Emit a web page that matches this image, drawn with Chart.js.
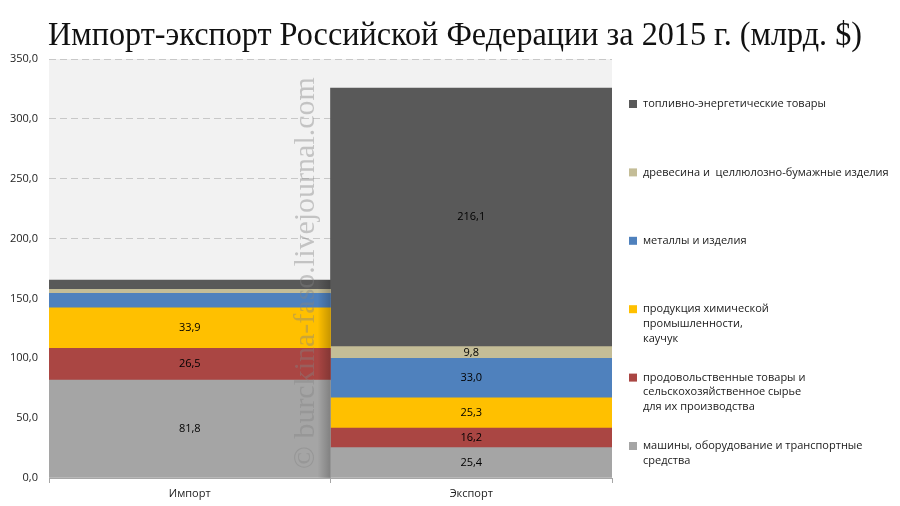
<!DOCTYPE html>
<html>
<head>
<meta charset="utf-8">
<script src="https://cdn.jsdelivr.net/npm/chart.js@4"></script>
<style>
  html, body { margin: 0; padding: 0; background: #fff; }
  #wrap { width: 900px; height: 506px; position: relative; }
</style>
</head>
<body>
<div id="wrap"><canvas id="chart" width="900" height="506"></canvas></div>
<script>
const categories = ['Импорт', 'Экспорт'];

// stack order, bottom to top
const seriesNames = [
    'машины, оборудование и транспортные\nсредства',
    'продовольственные товары и\nсельскохозяйственное сырье\nдля их производства',
    'продукция химической\nпромышленности,\nкаучук',
    'металлы и изделия',
    'древесина и  целлюлозно-бумажные изделия',
    'топливно-энергетические товары'
];
const machinery = [81.8, 25.4];
const food = [26.5, 16.2];
const chemicals = [33.9, 25.3];
const metals = [12.1, 33.0];
const timber = [3.3, 9.8];
const fuel = [7.8, 216.1];

const yTicks = [0, 50, 100, 150, 200, 250, 300, 350];

const seriesColors = ['#a5a5a5', '#aa4643', '#ffc000', '#4f81bd', '#c4bd97', '#595959'];
const seriesValues = [machinery, food, chemicals, metals, timber, fuel];

const fmt = v => v.toFixed(1).replace('.', ',');

const datasets = seriesValues.map((vals, i) => ({
    label: seriesNames[i],
    data: vals,
    backgroundColor: seriesColors[i],
    borderWidth: 0,
    barPercentage: 1.0,
    categoryPercentage: 1.0
}));

const plotBg = {
    id: 'plotBg',
    beforeDraw(chart) {
        const { ctx, chartArea: a } = chart;
        ctx.save();
        ctx.fillStyle = '#f2f2f2';
        ctx.fillRect(a.left, a.top, a.right - a.left, a.bottom - a.top);
        ctx.restore();
    }
};

const extras = {
    id: 'extras',
    afterDatasetsDraw(chart) {
        const { ctx } = chart;
        ctx.save();

        // soft shadow on the right edge of the import column
        const bar = chart.getDatasetMeta(datasets.length - 1).data[0];
        const right = bar.x + bar.width / 2;
        const g = ctx.createLinearGradient(right - 13, 0, right, 0);
        g.addColorStop(0, 'rgba(0,0,0,0)');
        g.addColorStop(1, 'rgba(0,0,0,0.22)');
        ctx.fillStyle = g;
        ctx.fillRect(right - 13, bar.y, 13, chart.chartArea.bottom - bar.y);

        // value labels
        ctx.font = '11px "Open Sans", "Liberation Sans", sans-serif';
        ctx.fillStyle = '#000';
        ctx.textAlign = 'center';
        ctx.textBaseline = 'middle';
        chart.data.datasets.forEach((ds, di) => {
            chart.getDatasetMeta(di).data.forEach((b, i) => {
                if (i === 0 && di > 2) return;
                ctx.fillText(fmt(ds.data[i]), b.x, (b.y + b.base) / 2);
            });
        });

        // watermark
        ctx.translate(306, 273);
        ctx.rotate(-Math.PI / 2);
        ctx.font = '30px "Liberation Serif", "DejaVu Serif", serif';
        ctx.fillStyle = 'rgba(130,130,130,0.42)';
        ctx.textAlign = 'center';
        ctx.fillText('© burckina-faso.livejournal.com', 0, 0);
        ctx.restore();
    },
    afterDraw(chart) {
        const { ctx } = chart;
        ctx.save();
        // title, slightly condensed
        ctx.font = '33px "Liberation Serif", "DejaVu Serif", serif';
        const title = 'Импорт-экспорт Российской Федерации за 2015 г. (млрд. $)';
        const w = ctx.measureText(title).width;
        ctx.translate(48, 45);
        ctx.scale(814 / w, 1);
        ctx.fillStyle = '#111';
        ctx.textAlign = 'left';
        ctx.textBaseline = 'alphabetic';
        ctx.fillText(title, 0, 0);
        ctx.setTransform(1, 0, 0, 1, 0, 0);

        // legend, top entry is the top of the stack
        ctx.font = '11px "Open Sans", "Liberation Sans", sans-serif';
        ctx.textBaseline = 'middle';
        const order = chart.data.datasets.map((d, i) => i).reverse();
        order.forEach((di, k) => {
            const ds = chart.data.datasets[di];
            const y0 = 104 + k * 68.4;
            ctx.fillStyle = ds.backgroundColor;
            ctx.fillRect(629, y0 - 4, 8, 8);
            ctx.fillStyle = '#1a1a1a';
            ds.label.split('\n').forEach((line, j) => {
                ctx.fillText(line, 643, y0 + j * 14.6);
            });
        });
        ctx.restore();
    }
};

new Chart(document.getElementById('chart'), {
    type: 'bar',
    data: { labels: categories, datasets },
    plugins: [plotBg, extras],
    options: {
        responsive: false,
        animation: false,
        layout: { padding: { left: 0, right: 288, top: 59, bottom: 0 } },
        plugins: {
            legend: { display: false },
            tooltip: { enabled: false }
        },
        scales: {
            x: {
                stacked: true,
                offset: true,
                afterFit: s => { s.height = 28; },
                grid: {
                    offset: true,
                    drawOnChartArea: false,
                    drawTicks: true,
                    tickLength: 5,
                    color: '#a6a6a6'
                },
                border: { display: true, color: '#a6a6a6' },
                ticks: {
                    color: '#222',
                    padding: 4,
                    font: { size: 11, family: '"Open Sans", "Liberation Sans", sans-serif' }
                }
            },
            y: {
                stacked: true,
                min: 0,
                max: 350,
                afterFit: s => { s.width = 49; },
                afterBuildTicks: s => { s.ticks = yTicks.map(v => ({ value: v })); },
                grid: {
                    drawTicks: false,
                    color: '#c8c8c8',
                    lineWidth: 1
                },
                border: { display: false, dash: [7, 4] },
                ticks: {
                    color: '#222',
                    padding: 11,
                    callback: v => fmt(v),
                    font: { size: 11, family: '"Open Sans", "Liberation Sans", sans-serif' }
                }
            }
        }
    }
});
</script>
</body>
</html>
